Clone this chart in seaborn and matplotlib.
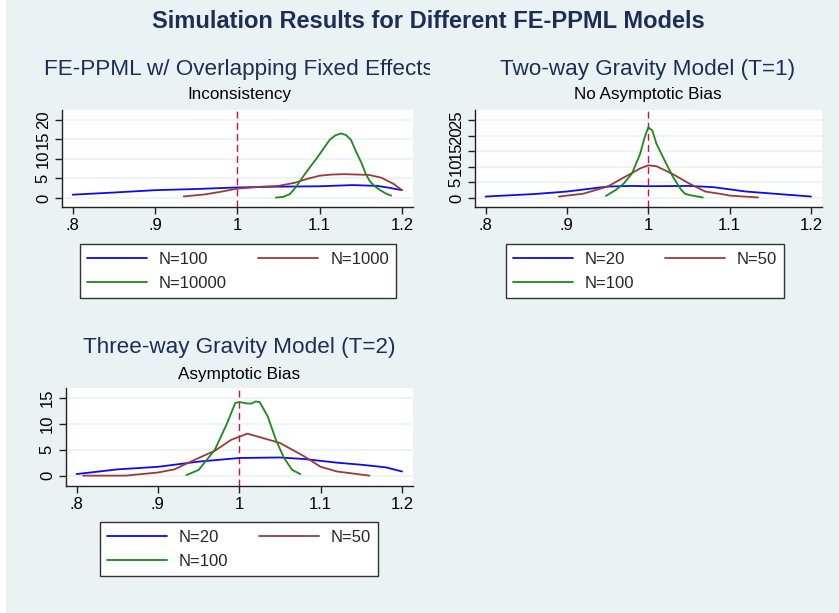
import numpy as np
import pandas as pd
import matplotlib
matplotlib.use("Agg")
import matplotlib.pyplot as plt
from matplotlib.patches import Rectangle
from matplotlib.transforms import Bbox, TransformedBbox
from matplotlib.lines import Line2D
import seaborn as sns

# ---------------- data ----------------
main_title = "Simulation Results for Different FE-PPML Models"
panel_titles = ["FE-PPML w/ Overlapping Fixed Effects", "Two-way Gravity Model (T=1)", "Three-way Gravity Model (T=2)"]
panel_subtitles = ["Inconsistency", "No Asymptotic Bias", "Asymptotic Bias"]

x_ticks = [0.8, 0.9, 1.0, 1.1, 1.2]
x_ticklabels = [".8", ".9", "1", "1.1", "1.2"]
y_ticks_p1 = [0, 5, 10, 15, 20]
y_ticks_p2 = [0, 5, 10, 15, 20, 25]
y_ticks_p3 = [0, 5, 10, 15]

labels_p1 = ["N=100", "N=1000", "N=10000"]
labels_p23 = ["N=20", "N=50", "N=100"]

# Panel 1
p1_x_a = [0.80, 0.85, 0.90, 0.95, 1.00, 1.05, 1.10, 1.14, 1.17, 1.185, 1.20]
p1_y_a = [0.85, 1.4, 2.0, 2.3, 2.7, 2.9, 3.0, 3.3, 3.1, 2.6, 2.0]
p1_x_b = [0.935, 0.96, 0.98, 1.00, 1.03, 1.05, 1.07, 1.085, 1.10, 1.115, 1.13, 1.145, 1.16, 1.175, 1.19, 1.20]
p1_y_b = [0.4, 0.9, 1.6, 2.4, 2.9, 3.1, 3.9, 4.9, 5.7, 6.0, 6.1, 6.0, 5.9, 5.2, 3.6, 2.0]
p1_x_c = [1.047, 1.056, 1.064, 1.072, 1.08, 1.088, 1.096, 1.104, 1.112, 1.119, 1.126, 1.132, 1.138, 1.144, 1.151, 1.156, 1.161, 1.167, 1.173, 1.18, 1.187]
p1_y_c = [0.1, 0.3, 1.0, 3.0, 5.5, 7.8, 10.0, 12.4, 14.8, 16.0, 16.5, 16.1, 14.9, 12.0, 8.9, 6.2, 4.3, 3.0, 2.1, 1.2, 0.6]

# Panel 2
p2_x_a = [0.80, 0.86, 0.90, 0.95, 0.98, 1.00, 1.05, 1.08, 1.12, 1.16, 1.20]
p2_y_a = [0.5, 1.3, 2.1, 3.7, 3.9, 3.8, 3.9, 3.5, 2.1, 1.3, 0.5]
p2_x_b = [0.89, 0.92, 0.95, 0.97, 0.99, 1.00, 1.01, 1.03, 1.05, 1.07, 1.09, 1.10, 1.135]
p2_y_b = [0.5, 1.4, 3.7, 6.6, 9.5, 10.5, 10.2, 7.7, 4.7, 2.1, 1.3, 0.8, 0.2]
p2_x_c = [0.948, 0.96, 0.97, 0.98, 0.99, 0.995, 1.00, 1.005, 1.01, 1.02, 1.03, 1.04, 1.045, 1.05, 1.067]
p2_y_c = [0.7, 2.6, 4.7, 7.9, 14.2, 19.0, 22.7, 21.6, 17.4, 12.1, 6.9, 2.8, 1.4, 1.0, 0.2]

# Panel 3
p3_x_a = [0.80, 0.85, 0.90, 0.95, 1.00, 1.05, 1.08, 1.12, 1.15, 1.18, 1.20]
p3_y_a = [0.3, 1.2, 1.7, 2.7, 3.4, 3.5, 3.2, 2.5, 2.1, 1.6, 0.8]
p3_x_b = [0.808, 0.86, 0.90, 0.92, 0.95, 0.97, 0.99, 1.01, 1.03, 1.05, 1.08, 1.10, 1.12, 1.16]
p3_y_b = [0.0, 0.0, 0.6, 1.2, 3.4, 4.8, 6.9, 8.1, 7.2, 6.3, 3.7, 1.7, 0.8, 0.0]
p3_x_c = [0.935, 0.95, 0.97, 0.985, 0.995, 1.00, 1.01, 1.015, 1.02, 1.025, 1.035, 1.045, 1.055, 1.065, 1.075]
p3_y_c = [0.1, 1.1, 5.0, 10.1, 14.0, 14.2, 13.9, 13.9, 14.3, 14.2, 11.4, 6.9, 3.4, 1.1, 0.3]

# ---------------- style ----------------
sns.set_style("white")
plt.rcParams["font.family"] = ["Liberation Sans", "DejaVu Sans"]

BG = "#EAF2F3"
NAVY = "#1E2D55"
colors = ["#0A0AF5", "#9B3A3A", "#1A8A1A"]
W, H = 839, 613

fig = plt.figure(figsize=(W / 100, H / 100), dpi=100, facecolor="white")
fig.patches.append(Rectangle((6 / W, 0), 1, 1, transform=fig.transFigure,
                             facecolor=BG, edgecolor="none", zorder=-10))


def ax_rect(left, right, top, bottom):
    return [left / W, 1 - bottom / H, (right - left) / W, (bottom - top) / H]


def make_panel(rect, xs, ys, labels, yticks, ylim, title, subtitle, title_xy, sub_y,
               leg_center_x, leg_top_y, col_spacing):
    ax = fig.add_axes(ax_rect(*rect))
    ax.set_facecolor("white")
    for yt in yticks:
        ax.axhline(yt, color=BG, lw=1.2, zorder=0)
    for x, y, lab, c in zip(xs, ys, labels, colors):
        df = pd.DataFrame({"x": x, "y": y})
        sns.lineplot(data=df, x="x", y="y", ax=ax, color=c, lw=1.3, sort=False,
                     estimator=None, legend=False, zorder=3)
    ax.axvline(1.0, color="#CC1144", lw=1.0, ls=(0, (5, 3)), zorder=2)
    ax.set_xlim(0.787, 1.2135)
    ax.set_ylim(*ylim)
    ax.set_xticks(x_ticks)
    ax.set_xticklabels(x_ticklabels)
    ax.set_yticks(yticks)
    ax.set_yticklabels([str(v) for v in yticks], rotation=90, va="center")
    ax.set_xlabel("")
    ax.set_ylabel("")
    for s in ["top", "right"]:
        ax.spines[s].set_visible(False)
    for s in ["left", "bottom"]:
        ax.spines[s].set_color("#222222")
        ax.spines[s].set_linewidth(1.0)
    ax.tick_params(axis="both", which="both", direction="out", length=5, width=1,
                   color="#222222", labelsize=12, labelcolor="black", pad=3)
    ax.tick_params(axis="x", bottom=True)
    ax.tick_params(axis="y", left=True)
    t = fig.text(title_xy[0] / W, 1 - title_xy[1] / H, title, ha="center", va="center",
                 fontsize=16.2, color=NAVY)
    clipbox = TransformedBbox(Bbox([[6 / W, 0], [430 / W if rect[1] < 420 else 1, 1]]),
                              fig.transFigure)
    t.set_clip_box(clipbox)
    t.set_clip_on(True)
    fig.text(title_xy[0] / W, 1 - sub_y / H, subtitle, ha="center", va="center",
             fontsize=12.3, color="black")
    handles = [Line2D([0], [0], color=c, lw=1.3) for c in colors]
    order = [0, 2, 1]
    leg = ax.legend([handles[i] for i in order], [labels[i] for i in order], ncol=2,
                    loc="upper center", bbox_to_anchor=(leg_center_x / W, 1 - leg_top_y / H),
                    bbox_transform=fig.transFigure, frameon=True, fancybox=False,
                    shadow=False, framealpha=1, edgecolor="#333333", fontsize=12,
                    handlelength=3.6, handletextpad=0.7, columnspacing=col_spacing,
                    borderpad=0.45, labelspacing=0.55, borderaxespad=0)
    leg.get_frame().set_linewidth(1.0)
    return ax


make_panel((62, 413, 110, 207), [p1_x_a, p1_x_b, p1_x_c], [p1_y_a, p1_y_b, p1_y_c],
           labels_p1, y_ticks_p1, (-2.3, 22.5), panel_titles[0], panel_subtitles[0],
           (239, 70), 95, 238, 244, 1.9)
make_panel((475, 822, 110, 207), [p2_x_a, p2_x_b, p2_x_c], [p2_y_a, p2_y_b, p2_y_c],
           labels_p23, y_ticks_p2, (-2.85, 28.2), panel_titles[1], panel_subtitles[1],
           (648, 70), 95, 645, 244, 1.8)
make_panel((66, 413, 388, 486), [p3_x_a, p3_x_b, p3_x_c], [p3_y_a, p3_y_b, p3_y_c],
           labels_p23, y_ticks_p3, (-2.0, 16.9), panel_titles[2], panel_subtitles[2],
           (239, 348), 374, 239, 522, 1.8)

fig.text(428 / W, 1 - 22 / H, main_title, ha="center", va="center", fontsize=17,
         fontweight="bold", color=NAVY)

fig.savefig("out.png", dpi=100, facecolor=fig.get_facecolor())
